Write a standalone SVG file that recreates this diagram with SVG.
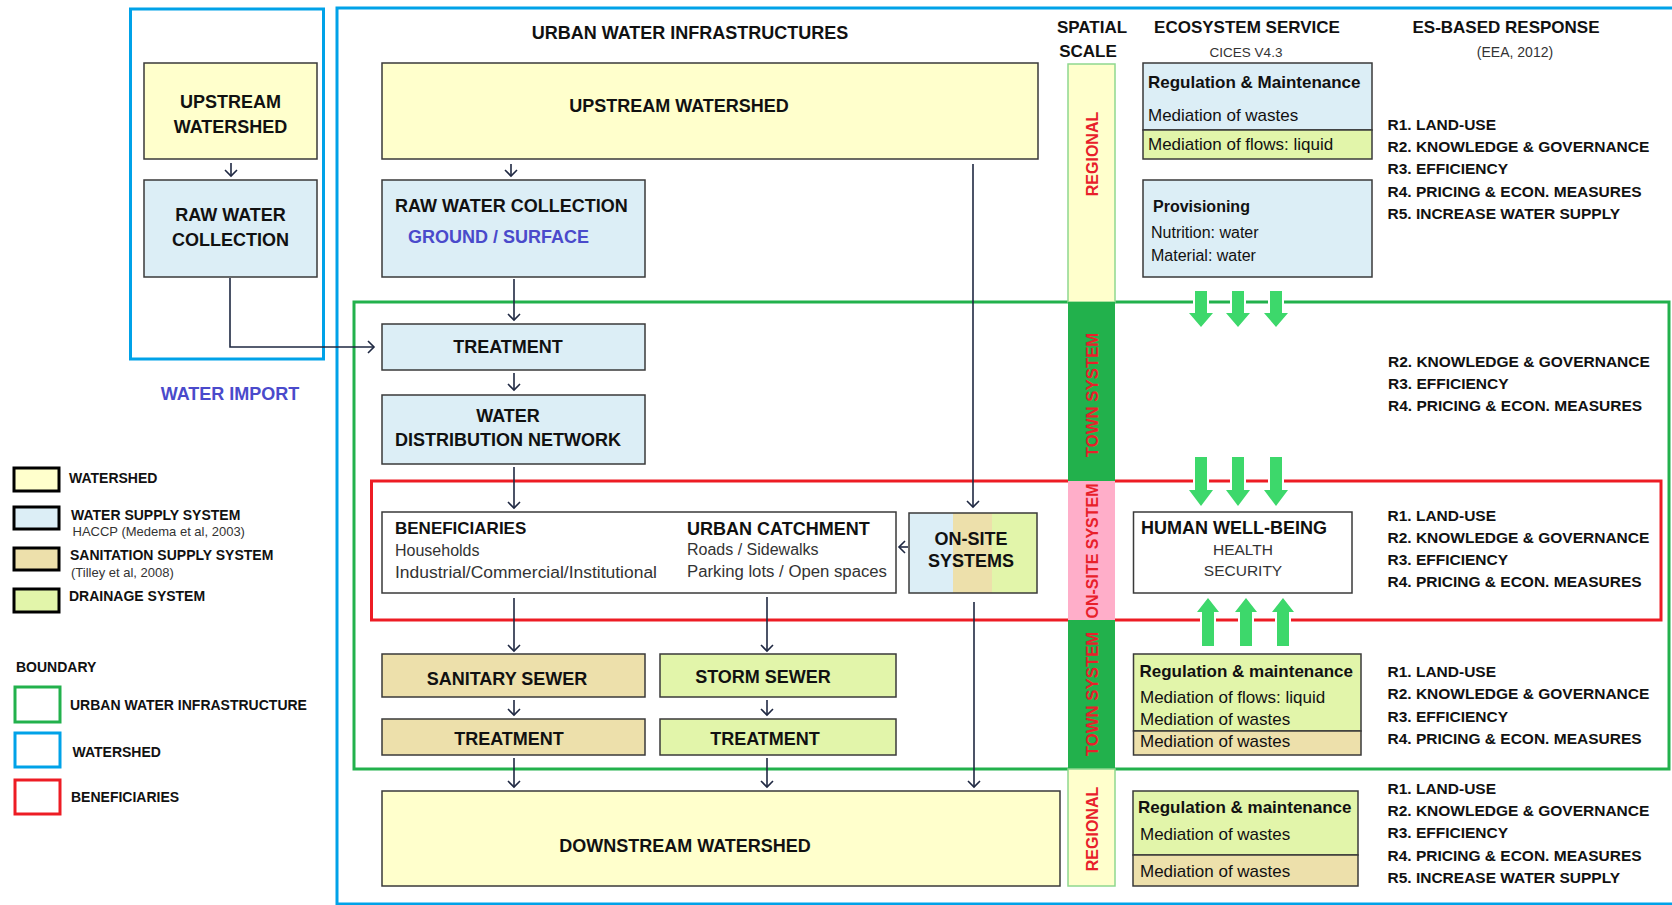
<svg xmlns="http://www.w3.org/2000/svg" width="1672" height="905" viewBox="0 0 1672 905">
<defs>
<style>
text{font-family:'Liberation Sans',Arial,sans-serif;fill:#111}
.b{font-weight:bold}
.f18{font-size:18px}.f17{font-size:17px}.f16{font-size:16px}.f15{font-size:15.5px}.f14{font-size:14px}.f13{font-size:13.5px}.f12{font-size:13px}
.v{font-size:16px}.v2{font-size:16.8px}.v3{font-size:16px}
.m{text-anchor:middle}
.g{fill:#333}
.purple{fill:#4a4acb}
.red{fill:#e8202a}
.box{stroke:#3a3a3a;stroke-width:1.5}
.ws{fill:#ffffcc}.sup{fill:#dceef6}.san{fill:#ede0ab}.dr{fill:#e2f5aa}.wh{fill:#fff}
.lg{stroke:#000;stroke-width:3}
.con{fill:none;stroke:#1f2842;stroke-width:1.6}
.bnd{fill:none;stroke-width:3}
.gar{fill:#3dd86b;stroke:#fff;stroke-width:4;paint-order:stroke}
</style>
<marker id="ah" markerUnits="userSpaceOnUse" viewBox="-8 -8 10 16" refX="0" refY="0" markerWidth="10" markerHeight="16" orient="auto">
<path d="M-6,-6 L0,0 L-6,6" fill="none" stroke="#1f2842" stroke-width="1.6"/>
</marker>
</defs>

<!-- boundaries -->
<g id="boundaries">
<rect x="130.5" y="9" width="193" height="350" class="bnd" stroke="#00a2e8"/>
<rect x="337" y="8" width="1350" height="896" class="bnd" stroke="#00a2e8"/>
<rect x="354" y="302" width="1315" height="467" class="bnd" stroke="#22b14c"/>
<rect x="371.5" y="481" width="1289.5" height="139" class="bnd" stroke="#ed1c24"/>
</g>

<!-- left import panel -->
<g id="up-small"><rect x="144" y="63" width="173" height="96" class="box ws"/>
<text x="230.5" y="108" class="b f18 m">UPSTREAM</text><text x="230.5" y="133" class="b f18 m">WATERSHED</text></g>
<g id="raw-small"><rect x="144" y="180" width="173" height="97" class="box sup"/>
<text x="230.5" y="221" class="b f18 m">RAW WATER</text><text x="230.5" y="246" class="b f18 m">COLLECTION</text></g>
<text x="230" y="400" class="b f18 m purple">WATER IMPORT</text>

<!-- headers -->
<text x="690" y="39" class="b f18 m">URBAN WATER INFRASTRUCTURES</text>
<text x="1092" y="33" class="b f17 m">SPATIAL</text>
<text x="1088" y="57" class="b f17 m">SCALE</text>
<text x="1247" y="33" class="b f17 m">ECOSYSTEM SERVICE</text>
<text x="1246" y="57" class="f13 m g">CICES V4.3</text>
<text x="1506" y="33" class="b f17 m">ES-BASED RESPONSE</text>
<text x="1515" y="57" class="f14 m g">(EEA, 2012)</text>

<!-- main infrastructure nodes -->
<g id="upstream"><rect x="382" y="63" width="656" height="96" class="box ws"/>
<text x="679" y="112" class="b f18 m">UPSTREAM WATERSHED</text></g>
<g id="raw"><rect x="382" y="180" width="263" height="97" class="box sup"/>
<text x="395" y="212" class="b f18">RAW WATER COLLECTION</text>
<text x="408" y="243" class="b f18 purple">GROUND / SURFACE</text></g>
<g id="treat1"><rect x="382" y="324" width="263" height="46" class="box sup"/>
<text x="508" y="353" class="b f18 m">TREATMENT</text></g>
<g id="distrib"><rect x="382" y="395" width="263" height="69" class="box sup"/>
<text x="508" y="422" class="b f18 m">WATER</text>
<text x="508" y="446" class="b f18 m">DISTRIBUTION NETWORK</text></g>
<g id="benef"><rect x="382" y="512" width="514" height="81" class="box wh"/>
<text x="395" y="534" class="b f17">BENEFICIARIES</text>
<text x="395" y="556" class="f16 g">Households</text>
<text x="395" y="578" class="f16 g" textLength="262" lengthAdjust="spacingAndGlyphs">Industrial/Commercial/Institutional</text>
<text x="687" y="535" class="b f18">URBAN CATCHMENT</text>
<text x="687" y="555" class="f16 g">Roads / Sidewalks</text>
<text x="687" y="577" class="f16 g" textLength="200" lengthAdjust="spacingAndGlyphs">Parking lots / Open spaces</text></g>
<g id="onsite"><rect x="909" y="513" width="44" height="80" fill="#dceef6"/><rect x="953" y="513" width="39" height="80" fill="#ede0ab"/><rect x="992" y="513" width="45" height="80" fill="#e2f5aa"/>
<rect x="909" y="513" width="128" height="80" fill="none" class="box"/>
<text x="971" y="545" class="b f18 m">ON-SITE</text><text x="971" y="567" class="b f18 m">SYSTEMS</text></g>
<g id="sansewer"><rect x="382" y="654" width="263" height="43" class="box san"/>
<text x="507" y="685" class="b f18 m">SANITARY SEWER</text></g>
<g id="stormsewer"><rect x="660" y="654" width="236" height="43" class="box dr"/>
<text x="763" y="683" class="b f18 m">STORM SEWER</text></g>
<g id="santreat"><rect x="382" y="719" width="263" height="36" class="box san"/>
<text x="509" y="745" class="b f18 m">TREATMENT</text></g>
<g id="stormtreat"><rect x="660" y="719" width="236" height="36" class="box dr"/>
<text x="765" y="745" class="b f18 m">TREATMENT</text></g>
<g id="downstream"><rect x="382" y="791" width="678" height="95" class="box ws"/>
<text x="685" y="852" class="b f18 m">DOWNSTREAM WATERSHED</text></g>

<!-- connectors -->
<g id="connectors">
<line x1="231" y1="163" x2="231" y2="176" class="con" marker-end="url(#ah)"/>
<polyline points="230,278 230,347 374,347" class="con" marker-end="url(#ah)"/>
<line x1="511" y1="164" x2="511" y2="176" class="con" marker-end="url(#ah)"/>
<line x1="514" y1="279" x2="514" y2="320" class="con" marker-end="url(#ah)"/>
<line x1="514" y1="373" x2="514" y2="390" class="con" marker-end="url(#ah)"/>
<line x1="514" y1="467" x2="514" y2="508" class="con" marker-end="url(#ah)"/>
<line x1="973" y1="164" x2="973" y2="507" class="con" marker-end="url(#ah)"/>
<line x1="908" y1="547" x2="899" y2="547" class="con" marker-end="url(#ah)"/>
<line x1="514" y1="598" x2="514" y2="651" class="con" marker-end="url(#ah)"/>
<line x1="767" y1="597" x2="767" y2="651" class="con" marker-end="url(#ah)"/>
<line x1="514" y1="700" x2="514" y2="715" class="con" marker-end="url(#ah)"/>
<line x1="767" y1="700" x2="767" y2="715" class="con" marker-end="url(#ah)"/>
<line x1="514" y1="758" x2="514" y2="787" class="con" marker-end="url(#ah)"/>
<line x1="767" y1="758" x2="767" y2="787" class="con" marker-end="url(#ah)"/>
<line x1="974" y1="602" x2="974" y2="787" class="con" marker-end="url(#ah)"/>
</g>

<!-- spatial scale bar -->
<g id="spatial">
<rect x="1068" y="64" width="47" height="238" fill="#ffffcc" stroke="#8fd88f" stroke-width="1.5"/>
<rect x="1068" y="302" width="47" height="179" fill="#22b14c"/>
<rect x="1068" y="481" width="47" height="139" fill="#ffaec9"/>
<rect x="1068" y="620" width="47" height="149" fill="#22b14c"/>
<rect x="1068" y="769" width="47" height="117" fill="#ffffcc" stroke="#8fd88f" stroke-width="1.5"/>
<text transform="translate(1091.5,154) rotate(-90)" y="6" class="b v m red">REGIONAL</text>
<text transform="translate(1091.5,395) rotate(-90)" y="6" class="b v2 m red">TOWN SYSTEM</text>
<text transform="translate(1091.5,551) rotate(-90)" y="6" class="b v3 m red">ON-SITE SYSTEM</text>
<text transform="translate(1091.5,694) rotate(-90)" y="6" class="b v2 m red">TOWN SYSTEM</text>
<text transform="translate(1091.5,829) rotate(-90)" y="6" class="b v m red">REGIONAL</text>
</g>

<!-- ecosystem services -->
<g id="es-reg1"><rect x="1143" y="63" width="229" height="67" class="box sup"/><rect x="1143" y="130" width="229" height="29" class="box dr"/>
<text x="1148" y="88" class="b f17">Regulation &amp; Maintenance</text>
<text x="1148" y="121" class="f17">Mediation of wastes</text>
<text x="1148" y="150" class="f17">Mediation of flows: liquid</text></g>
<g id="es-prov"><rect x="1143" y="180" width="229" height="97" class="box sup"/>
<text x="1153" y="212" class="b f16">Provisioning</text>
<text x="1151" y="238" class="f16">Nutrition: water</text>
<text x="1151" y="261" class="f16">Material: water</text></g>
<g id="hwb"><rect x="1133.5" y="512" width="218.5" height="81" class="box wh"/>
<text x="1141" y="534" class="b f18">HUMAN WELL-BEING</text>
<text x="1243" y="555" class="f15 m g">HEALTH</text>
<text x="1243" y="576" class="f15 m g">SECURITY</text></g>
<g id="es-reg2"><rect x="1133.5" y="654" width="227.5" height="77" class="box dr"/><rect x="1133.5" y="731" width="227.5" height="24" class="box san"/>
<text x="1139.5" y="677" class="b f17">Regulation &amp; maintenance</text>
<text x="1140" y="703" class="f17">Mediation of flows: liquid</text>
<text x="1140" y="725" class="f17">Mediation of wastes</text>
<text x="1140" y="747" class="f17">Mediation of wastes</text></g>
<g id="es-reg3"><rect x="1133" y="791" width="225" height="64" class="box dr"/><rect x="1133" y="855" width="225" height="31" class="box san"/>
<text x="1138" y="813" class="b f17">Regulation &amp; maintenance</text>
<text x="1140" y="840" class="f17">Mediation of wastes</text>
<text x="1140" y="877" class="f17">Mediation of wastes</text></g>

<!-- green arrows -->
<g id="es-arrows">
<path class="gar" d="M1195,291 h12 v22 h6 l-12,14 l-12,-14 h6 z"/>
<path class="gar" d="M1232,291 h12 v22 h6 l-12,14 l-12,-14 h6 z"/>
<path class="gar" d="M1270,291 h12 v22 h6 l-12,14 l-12,-14 h6 z"/>
<path class="gar" d="M1195,457 h12 v33 h6 l-12,16 l-12,-16 h6 z"/>
<path class="gar" d="M1232,457 h12 v33 h6 l-12,16 l-12,-16 h6 z"/>
<path class="gar" d="M1270,457 h12 v33 h6 l-12,16 l-12,-16 h6 z"/>
<path class="gar" d="M1202,646 h12 v-34 h5 l-11,-14 l-11,14 h5 z"/>
<path class="gar" d="M1240,646 h12 v-34 h5 l-11,-14 l-11,14 h5 z"/>
<path class="gar" d="M1277,646 h12 v-34 h5 l-11,-14 l-11,14 h5 z"/>
</g>

<!-- responses -->
<g id="resp1">
<text x="1387.5" y="130" class="b f15">R1. LAND-USE</text>
<text x="1387.5" y="152" class="b f15">R2. KNOWLEDGE &amp; GOVERNANCE</text>
<text x="1387.5" y="174" class="b f15">R3. EFFICIENCY</text>
<text x="1387.5" y="197" class="b f15">R4. PRICING &amp; ECON. MEASURES</text>
<text x="1387.5" y="219" class="b f15">R5. INCREASE WATER SUPPLY</text>
</g>
<g id="resp2">
<text x="1388" y="367" class="b f15">R2. KNOWLEDGE &amp; GOVERNANCE</text>
<text x="1388" y="389" class="b f15">R3. EFFICIENCY</text>
<text x="1388" y="411" class="b f15">R4. PRICING &amp; ECON. MEASURES</text>
</g>
<g id="resp3">
<text x="1387.5" y="521" class="b f15">R1. LAND-USE</text>
<text x="1387.5" y="543" class="b f15">R2. KNOWLEDGE &amp; GOVERNANCE</text>
<text x="1387.5" y="565" class="b f15">R3. EFFICIENCY</text>
<text x="1387.5" y="587" class="b f15">R4. PRICING &amp; ECON. MEASURES</text>
</g>
<g id="resp4">
<text x="1387.5" y="677" class="b f15">R1. LAND-USE</text>
<text x="1387.5" y="699" class="b f15">R2. KNOWLEDGE &amp; GOVERNANCE</text>
<text x="1387.5" y="722" class="b f15">R3. EFFICIENCY</text>
<text x="1387.5" y="744" class="b f15">R4. PRICING &amp; ECON. MEASURES</text>
</g>
<g id="resp5">
<text x="1387.5" y="794" class="b f15">R1. LAND-USE</text>
<text x="1387.5" y="816" class="b f15">R2. KNOWLEDGE &amp; GOVERNANCE</text>
<text x="1387.5" y="838" class="b f15">R3. EFFICIENCY</text>
<text x="1387.5" y="861" class="b f15">R4. PRICING &amp; ECON. MEASURES</text>
<text x="1387.5" y="883" class="b f15">R5. INCREASE WATER SUPPLY</text>
</g>

<!-- legend -->
<g id="legend">
<rect x="14" y="468" width="45" height="23" class="lg" fill="#ffffcc"/>
<text x="69" y="483" class="b f14">WATERSHED</text>
<rect x="14" y="507" width="45" height="22" class="lg" fill="#dceef6"/>
<text x="71" y="520" class="b f14">WATER SUPPLY SYSTEM</text>
<text x="72.5" y="536" class="f12 g">HACCP (Medema et al, 2003)</text>
<rect x="14" y="548" width="45" height="22" class="lg" fill="#ede0ab"/>
<text x="70" y="560" class="b f14">SANITATION SUPPLY SYSTEM</text>
<text x="71" y="577" class="f12 g">(Tilley et al, 2008)</text>
<rect x="14" y="589" width="45" height="23" class="lg" fill="#e2f5aa"/>
<text x="69" y="601" class="b f14">DRAINAGE SYSTEM</text>
<text x="16" y="672" class="b f14">BOUNDARY</text>
<rect x="15" y="687" width="45" height="35" class="bnd" stroke="#22b14c"/>
<text x="70" y="710" class="b f14">URBAN WATER INFRASTRUCTURE</text>
<rect x="15" y="733" width="45" height="34" class="bnd" stroke="#00a2e8"/>
<text x="72.5" y="757" class="b f14">WATERSHED</text>
<rect x="15" y="780" width="45" height="34" class="bnd" stroke="#ed1c24"/>
<text x="71" y="802" class="b f14">BENEFICIARIES</text>
</g>
</svg>
